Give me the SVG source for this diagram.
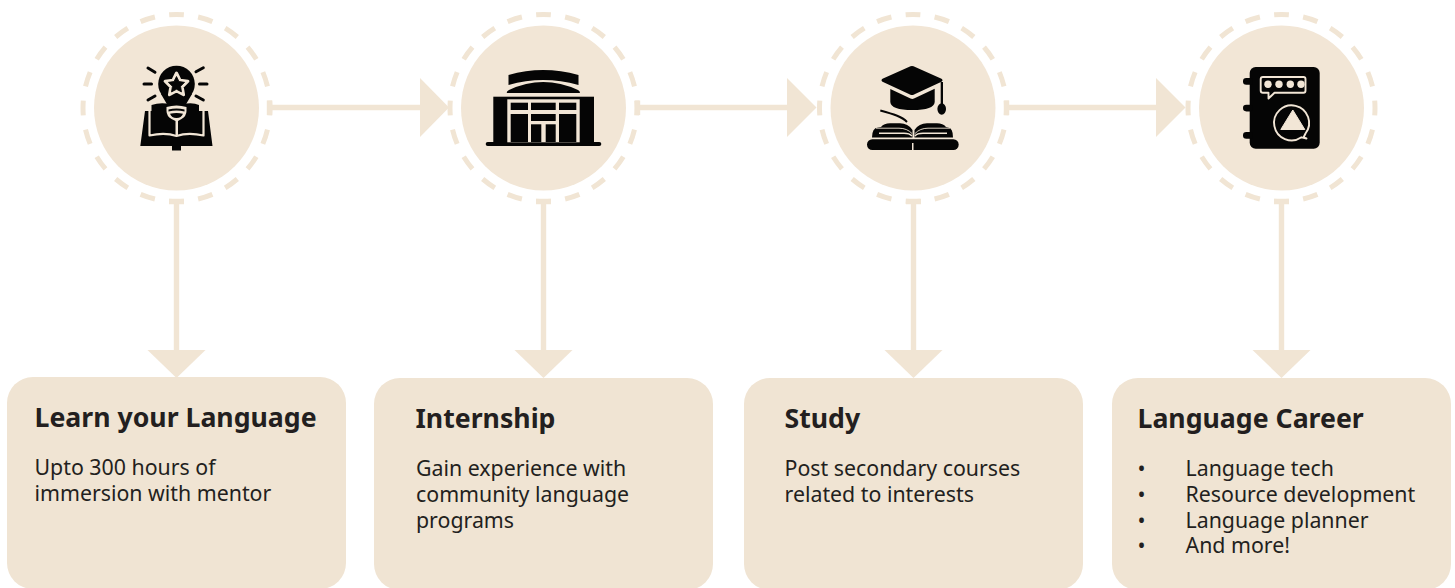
<svg xmlns="http://www.w3.org/2000/svg" width="1455" height="588" viewBox="0 0 1455 588">
<style>
.bg{fill:#f2e6d6}
.ring{fill:none;stroke:#f1e5d4;stroke-width:5}
.box{fill:#f0e4d3}
.ln{fill:none;stroke:#f1e5d4;stroke-width:5.400}
.ah{fill:#f1e5d4}
.t{font-family:"Noto Sans",sans-serif;font-size:26.67px;font-weight:700;fill:#231f20}
.b{font-family:"Noto Sans",sans-serif;font-size:21.33px;fill:#231f20}
.k{fill:#050505}
.c{fill:#f2e6d6}
.cs{fill:none;stroke:#f2e6d6;stroke-width:1.900;stroke-linejoin:round}
.ks{fill:none;stroke:#050505;stroke-width:3;stroke-linecap:round}
</style>
<defs>
<g id="disc"><circle class="bg" r="82.500"/><circle class="ring" r="93.500" pathLength="200" stroke-dasharray="5.100 4.900" stroke-dashoffset="2.550" transform="rotate(-90)"/></g>
<polygon id="star" points="0,-10 2.940,-4.050 9.510,-3.090 4.760,1.550 5.880,8.090 0,5 -5.880,8.090 -4.760,1.550 -9.510,-3.090 -2.940,-4.050"/>
</defs>
<g id="connectors">
<path class="ln" d="M269.500 100.500V115M269.500 107.500H422"/><path class="ah" d="M420 78L449 107.500L420 137Z"/>
<path class="ln" d="M637.500 100.500V115M637.500 107.500H789"/><path class="ah" d="M787 78L816.500 107.500L787 137Z"/>
<path class="ln" d="M1006.500 100.500V115M1006.500 107.500H1158"/><path class="ah" d="M1156 78L1185.500 107.500L1156 137Z"/>
<path class="ln" d="M169 201.500H184M176.500 201.500V352"/><path class="ah" d="M147.500 350H205.500L176.500 378Z"/>
<path class="ln" d="M536 201.500H551M543.500 201.500V352"/><path class="ah" d="M514.500 350H572.500L543.500 378Z"/>
<path class="ln" d="M906 201.500H921M913.500 201.500V352"/><path class="ah" d="M884.500 350H942.500L913.500 378Z"/>
<path class="ln" d="M1274 201.500H1289M1281.500 201.500V352"/><path class="ah" d="M1252.500 350H1310.500L1281.500 378Z"/>
</g>
<g id="node-1">
<use href="#disc" x="176.500" y="108"/>
<g>
<path class="k" d="M140.300 146L145 111H151.500V105Q160 102 170 104H183Q193 102 199 105V111H208L212.500 146H181V150.500H172V146Z"/>
<circle class="k" cx="176.500" cy="84" r="18.300"/>
<path class="k" d="M161 94L168 106H185L192 94Z"/>
<path class="cs" d="M149.500 111V135.500Q165 132 176.500 136Q188 132 203.500 135.500V111" style="stroke-width:2.200"/>
<path class="c" d="M166.500 107Q176.500 104 186.500 107V111Q186.500 116 181.500 119L178 121V136H175.500V121L171.500 119Q166.500 116 166.500 111Z"/>
<path class="k" d="M168.500 109.500Q176.500 107.700 184.500 109.500V111.500Q176.500 109.700 168.500 111.500ZM170 113.800Q176.500 112.300 183 113.800Q181.500 118 176.500 118Q171.500 118 170 113.800Z"/>
<use href="#star" transform="translate(176.500 85) scale(1.200)" style="fill:#f2e6d6;stroke:#f2e6d6;stroke-width:2.500;stroke-linejoin:round"/>
<use href="#star" transform="translate(176.500 85) scale(.85)" style="fill:#050505;stroke:#050505;stroke-width:1;stroke-linejoin:round"/>
<path class="ks" d="M148 68L155 72.300M203.300 67.700L196 71.700M144 84H151.500M207 84H199.500M148 100L155 96M203.300 100L196 96"/>
</g>
</g>
<g id="node-2">
<use href="#disc" x="543.500" y="108"/>
<g>
<path class="k" d="M508.500 75Q543 65 578.500 75V85Q543 75 508.500 85Z"/>
<path class="k" d="M506.700 93Q506.700 91 509 90Q543 74 578 90Q580 91 580 93Z"/>
<rect class="k" x="493.300" y="96.700" width="100.700" height="46"/>
<rect class="k" x="485.700" y="142" width="115.600" height="4" rx="2"/>
<rect class="c" x="507.300" y="99.300" width="72.400" height="43"/>
<rect class="k" x="510.700" y="102.700" width="17.300" height="7.300"/>
<rect class="k" x="531" y="102.700" width="24.700" height="7.300"/>
<rect class="k" x="559" y="102.700" width="17.300" height="7.300"/>
<rect class="k" x="510.700" y="114" width="17.300" height="28"/>
<rect class="k" x="559" y="114" width="17.300" height="28"/>
<rect class="k" x="531" y="114" width="24.700" height="7"/>
<rect class="k" x="531" y="124.300" width="10.300" height="17.700"/>
<rect class="k" x="545.700" y="124.300" width="10" height="17.700"/>
</g>
</g>
<g id="node-3">
<use href="#disc" x="913" y="108"/>
<g>
<path class="k" d="M910.500 66.300Q912 65.500 913.500 66.300L941.500 78.800Q943.500 80.300 941.500 81.800L914 94.500Q912 95.500 910 94.500L882.500 81.800Q880.500 80.300 882.500 78.800Z"/>
<path class="k" d="M890.300 89L910.500 98.500Q912.300 99.300 914 98.500L934.700 88.700V102Q934 110 912.500 110Q891 110 890.300 102Z"/>
<rect class="k" x="940.700" y="82" width="2.300" height="23"/>
<ellipse class="k" cx="941.700" cy="109" rx="4.300" ry="5.700"/>
<path d="M880.300 110.500C893 114 902 116.500 907 122" fill="none" stroke="#050505" stroke-width="1.900"/>
<path class="k" d="M872 137.500Q872 128 878 127.500L881 127Q884 123.300 890 123.300H900Q908 123.300 912.500 130V137.500Z"/>
<path class="k" d="M914.500 137.500V130Q919 123.300 927 123.300H937Q943 123.300 946 127L948 127.500Q953 128 953 137.500Z"/>
<rect class="k" x="867" y="139.300" width="91.700" height="10.700" rx="5.300"/>
<path class="cs" d="M879 133.300H904Q909.500 133.300 912 136M947 133.300H923Q917 133.300 915 136" style="stroke-width:1.500"/>
<path class="cs" d="M876 128.200H899Q907 128.200 912 133.500M950 128.200H928Q920 128.200 915 133.500" style="stroke-width:.9"/>
<rect class="c" x="912" y="143" width="1.500" height="7"/>
</g>
</g>
<g id="node-4">
<use href="#disc" x="1281.500" y="108"/>
<g>
<rect class="k" x="1249.700" y="67" width="70" height="81.700" rx="6"/>
<rect class="k" x="1243" y="78" width="10" height="6.700" rx="3.300"/>
<rect class="k" x="1243" y="104.700" width="10" height="6.700" rx="3.300"/>
<rect class="k" x="1243" y="132" width="10" height="6.700" rx="3.300"/>
<path class="cs" d="M1263 77H1303.500Q1305.500 77 1305.500 79V90.500Q1305.500 92.800 1303.500 92.800H1274.500L1268.500 98.500V92.800H1263Q1260.700 92.800 1260.700 90.500V79Q1260.700 77 1263 77Z"/>
<circle class="c" cx="1268" cy="84.300" r="3.700"/><circle class="c" cx="1279" cy="84.300" r="3.700"/><circle class="c" cx="1290.300" cy="84.300" r="3.700"/><circle class="c" cx="1301" cy="84.300" r="3.700"/>
<path class="cs" d="M1301.500 137.300A17.500 17.500 0 1 1 1305.500 133.500L1303.500 137.500L1306.500 138.500Z"/>
<path class="c" d="M1292.800 110L1304.800 129.500H1280.800Z" stroke="#f2e6d6" stroke-width="1" stroke-linejoin="round"/>
</g>
</g>
<g id="card-1"><rect class="box" x="7" y="377" width="339" height="212" rx="26"/>
<text class="t" x="34.500" y="427">Learn your Language</text>
<text class="b"><tspan x="34.500" y="475">Upto 300 hours of</tspan><tspan x="34.500" y="501">immersion with mentor</tspan></text></g>
<g id="card-2"><rect class="box" x="374" y="378" width="339" height="212" rx="26"/>
<text class="t" x="415.500" y="428">Internship</text>
<text class="b"><tspan x="416" y="476">Gain experience with</tspan><tspan x="416" y="502">community language</tspan><tspan x="416" y="528">programs</tspan></text></g>
<g id="card-3"><rect class="box" x="744" y="378" width="339" height="212" rx="26"/>
<text class="t" x="784.500" y="428">Study</text>
<text class="b"><tspan x="784.500" y="476">Post secondary courses</tspan><tspan x="784.500" y="502">related to interests</tspan></text></g>
<g id="card-4"><rect class="box" x="1112" y="378" width="339" height="212" rx="26"/>
<text class="t" x="1137.500" y="428">Language Career</text>
<text class="b"><tspan x="1137.500" y="476">•</tspan><tspan x="1185.500" y="476">Language tech</tspan><tspan x="1137.500" y="502">•</tspan><tspan x="1185.500" y="502">Resource development</tspan><tspan x="1137.500" y="528">•</tspan><tspan x="1185.500" y="528">Language planner</tspan><tspan x="1137.500" y="553">•</tspan><tspan x="1185.500" y="553">And more!</tspan></text></g>
</svg>
